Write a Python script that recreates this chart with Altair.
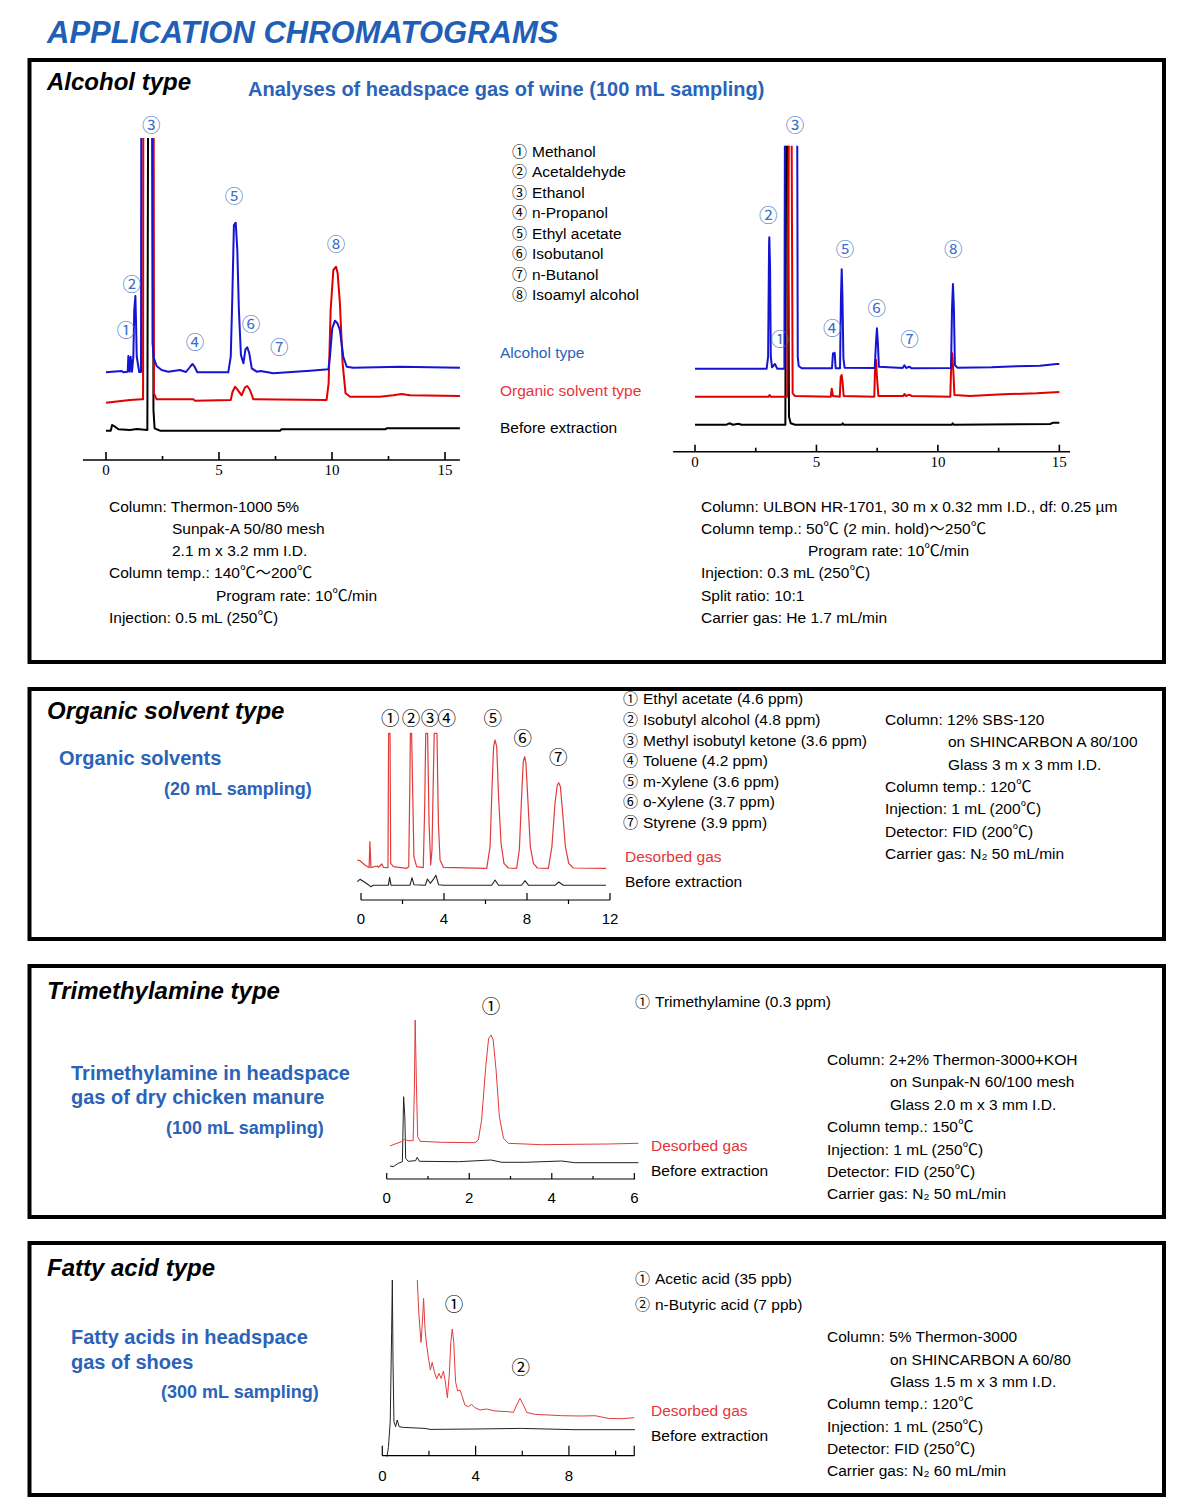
import altair as alt
import pandas as pd

OX, OY = 8, 8
W, H = 1176, 1491

# ------------------------------------------------------------------ data
# chromatogram traces: (retention time [min], signal [a.u.]); None = off-scale gap
ALC_L_BLUE = [(0,87.7),(0.69,89),(0.77,87.7),(0.96,88.3),(0.99,104),(1.05,88.3),(1.09,103.3),(1.15,88.3),
    (1.21,103.3),(1.25,150),(1.30,164),(1.33,136.7),(1.36,103.3),(1.42,95),(1.47,88),(1.55,88),(1.56,322),None,
    (2.04,322),(2.06,116.7),(2.12,101.7),(2.24,94),(2.46,90),(2.76,88.3),(3.27,90),(3.54,88),(3.75,94),(3.83,96),
    (3.92,93.3),(4.04,87.7),(5.41,87.7),(5.52,103.3),(5.59,163.3),(5.66,235),(5.74,237.3),(5.81,210),(5.88,150),
    (5.97,105),(6.08,96.7),(6.17,110.7),(6.25,112.7),(6.34,106.7),(6.45,91.7),(6.67,88.3),(6.84,89),(7.40,86.7),
    (9.03,89.3),(9.84,90.7),(9.91,103.3),(10.01,131.7),(10.13,139.3),(10.24,136.7),(10.35,130),(10.50,103.3),
    (10.65,93.3),(10.94,92.3),(13.01,93.3),(15.66,92.3)]
ALC_L_RED = [(0,57.3),(1.06,60),(1.58,60.7),(1.64,60.7),(1.65,322),None,(2.11,322),(2.12,66.7),(2.24,60.7),
    (3.86,60.7),(3.94,59.3),(5.52,60),(5.60,68.3),(5.71,73.3),(5.81,70.7),(6.00,64.7),(6.15,72.7),(6.25,74),
    (6.37,70),(6.52,60.7),(9.76,60),(9.85,76.7),(9.94,150),(10.06,190),(10.18,193.3),(10.25,186.7),(10.35,156.7),
    (10.47,96.7),(10.60,66.7),(10.80,63.3),(12.12,63.3),(12.71,64.7),(13.08,66),(13.45,64.7),(15.66,64)]
ALC_L_BLACK = [(0,29.3),(0.21,29.3),(0.27,35),(0.40,33.3),(0.55,30.7),(1.06,30),(1.36,31),(1.83,30),(1.86,322),
    None,(2.08,322),(2.10,50),(2.15,31.7),(2.39,29.3),(7.70,29.3),(7.77,30.7),(12.35,30.7),(12.42,31.7),(15.66,31.7)]

ALC_R_BLUE = [(0,83),(2.95,83),(3.01,95),(3.05,208.4),(3.06,214.4),(3.09,185),(3.12,95),(3.17,84.4),(3.29,87.7),
    (3.39,83),(3.68,83),(3.70,306),None,(4.21,306),(4.23,95),(4.27,85.7),(4.39,83.4),(5.64,83.4),(5.68,98.4),
    (5.72,96.7),(5.75,99),(5.79,83.4),(5.97,83.4),(6.01,155),(6.04,182.4),(6.07,155),(6.11,93.4),(6.16,84),
    (7.40,83.7),(7.45,108.4),(7.49,123.4),(7.53,108.4),(7.57,85),(8.55,83.7),(8.62,86.4),(8.70,83.7),(8.82,85),
    (8.92,83.4),(10.54,83.7),(10.58,141.7),(10.62,167.7),(10.66,141.7),(10.70,86.7),(10.80,84),(12.21,84.4),
    (13.24,85.4),(14.20,86),(14.89,87.7),(15.0,87.7)]
ALC_R_RED = [(0,55),(3.03,55),(3.07,56.7),(3.12,55),(3.80,55),(3.86,306),None,(3.98,306),(4.02,58.4),(4.12,55.7),
    (5.59,55),(5.63,63),(5.68,55.7),(5.96,55),(6.00,75),(6.04,76.7),(6.08,68.4),(6.12,55.7),(7.38,55),(7.42,88.4),
    (7.45,91.7),(7.49,75),(7.55,55.7),(8.58,55.7),(8.62,57.7),(8.69,55.7),(8.82,57),(8.92,55.7),(10.51,55),
    (10.55,88.4),(10.59,98.4),(10.64,78.4),(10.68,56.7),(11.32,55.7),(12.69,57.4),(14.07,58.4),(15.0,59.7)]
ALC_R_BLACK = [(0,27),(1.30,27),(1.41,28.4),(1.57,27),(1.78,28),(1.92,27),(3.72,27),(3.75,306),None,(3.83,306),
    (3.87,35),(3.94,28.4),(4.12,27),(6.04,27),(6.08,28.4),(6.12,27),(10.57,27),(10.61,28.4),(10.65,27),
    (14.62,27.7),(14.75,29),(15.0,29)]

ORG_RED = [(-0.18,40),(-0.05,39.3),(0.19,35),(0.39,32.3),(0.43,58.3),(0.48,32.3),(0.76,34),(0.84,32.7),(1.0,36),
    (1.08,32.7),(1.30,32.3),(1.33,166.7),(1.40,166.7),(1.43,36.7),(1.56,33.3),(2.20,31.7),(2.30,33.3),(2.35,110),
    (2.38,166.7),(2.44,166.7),(2.49,110),(2.55,43.3),(2.68,33.3),(3.0,32.3),(3.07,93.3),(3.12,166.7),(3.21,166.7),
    (3.28,76.7),(3.36,35),(3.42,50),(3.49,126.7),(3.53,166.7),(3.66,166.7),(3.73,76.7),(3.81,40),(3.97,32.7),
    (6.06,31.7),(6.22,53.3),(6.31,110),(6.39,153.3),(6.46,160),(6.54,153.3),(6.63,103.3),(6.75,56.7),(6.89,36.7),
    (7.10,32),(7.50,31.7),(7.63,50),(7.74,103.3),(7.82,138.3),(7.89,143.3),(7.95,136.7),(8.05,96.7),(8.16,53.3),
    (8.31,36.7),(8.50,32),(9.03,31.7),(9.20,53.3),(9.35,96.7),(9.46,115),(9.53,117.3),(9.61,113.3),(9.72,86.7),
    (9.85,53.3),(10.01,36.7),(10.23,32),(11.81,31.7)]
ORG_BLACK = [(-0.18,18.3),(-0.05,20.7),(0.14,18.3),(0.39,14.7),(0.47,13.3),(0.59,14.7),(1.32,14.7),(1.38,22.7),
    (1.45,14.7),(2.36,14.7),(2.46,22.3),(2.55,15.3),(3.10,14.7),(3.20,21),(3.34,16.7),(3.52,21.7),(3.61,24.7),
    (3.74,15.3),(3.97,14.7),(6.30,14.7),(6.46,20),(6.63,14.7),(7.74,14.7),(7.90,19.3),(8.08,14.7),(9.35,14.7),
    (9.53,18),(9.75,14.7),(11.81,14.7)]

TMA_RED = [(0.08,33),(0.20,35),(0.36,37.3),(0.43,39.7),(0.52,38.3),(0.64,38.3),(0.67,89),(0.69,159),(0.72,95.7),
    (0.75,42.3),(0.81,37.7),(1.33,36.7),(2.14,36.3),(2.22,39),(2.30,59),(2.40,112.3),(2.47,140.7),(2.53,144),
    (2.58,139),(2.65,109),(2.73,62.3),(2.83,40.7),(2.95,35.7),(3.75,34.3),(4.56,34.7),(5.37,35),(6.10,35.7)]
TMA_BLACK = [(0.08,13),(0.16,12.3),(0.28,15.7),(0.38,17.3),(0.41,82.3),(0.44,62.3),(0.46,20.7),(0.52,17.7),
    (0.70,18.3),(0.74,21.7),(0.79,17.7),(1.74,17.3),(2.53,19),(2.79,16.7),(3.35,16.7),(4.24,18),(4.56,16.3),(6.10,16.3)]

FAT_RED = [(1.50,175.7),(1.57,140.7),(1.66,113.3),(1.72,134),(1.77,157.3),(1.83,127.3),(1.90,110.7),(1.97,99),
    (2.06,85.7),(2.14,93.3),(2.23,84),(2.33,76.7),(2.43,82.3),(2.52,77.3),(2.62,84.7),(2.69,75.7),(2.79,58),
    (2.87,80.7),(2.94,114),(3.0,126.7),(3.06,114),(3.14,74),(3.23,64.7),(3.33,65.7),(3.43,59),(3.54,50.7),
    (3.69,49),(3.83,51.3),(3.97,48),(4.19,45.7),(4.47,46.7),(4.83,44.7),(5.40,44),(5.62,43.3),(5.76,50.7),
    (5.90,57.3),(6.05,50.7),(6.19,43.3),(6.55,41.3),(7.12,40.7),(7.69,40),(8.55,39.7),(9.12,40),(9.69,37.3),
    (10.26,37),(10.80,38)]
FAT_BLACK = [(0.20,-1),(0.26,8),(0.34,34),(0.40,124),(0.43,175.7),(0.46,90.7),(0.50,34),(0.57,29),(0.64,35.7),
    (0.72,29),(0.90,28.3),(1.83,27.3),(2.04,26.3),(3.97,26.7),(5.97,27.3),(8.26,26),(10.83,26)]

# peak numbers
PEAK_L = [(1, 0.88, 331), (2, 1.14, 285), (3, 2.0, 126), (4, 3.94, 343), (5, 5.66, 197), (6, 6.42, 325),
          (7, 7.67, 348), (8, 10.18, 245)]
PEAK_R = [(1, 3.50, 340), (2, 3.02, 216), (3, 4.12, 126), (4, 5.65, 329), (5, 6.18, 250), (6, 7.48, 309),
          (7, 8.83, 340), (8, 10.63, 250)]
PEAK_O = [(1, 1.41, 719), (2, 2.41, 719), (3, 3.33, 719), (4, 4.13, 719), (5, 6.35, 719), (6, 7.79, 739), (7, 9.51, 758)]
PEAK_T = [(1, 2.53, 1007)]
PEAK_F = [(1, 3.07, 1305), (2, 5.93, 1368)]

ALC_COMPOUNDS = ["Methanol", "Acetaldehyde", "Ethanol", "n-Propanol", "Ethyl acetate", "Isobutanol",
                 "n-Butanol", "Isoamyl alcohol"]
ORG_COMPOUNDS = ["Ethyl acetate (4.6 ppm)", "Isobutyl alcohol (4.8 ppm)", "Methyl isobutyl ketone (3.6 ppm)",
                 "Toluene (4.2 ppm)", "m-Xylene (3.6 ppm)", "o-Xylene (3.7 ppm)", "Styrene (3.9 ppm)"]
TMA_COMPOUNDS = ["Trimethylamine (0.3 ppm)"]
FAT_COMPOUNDS = ["Acetic acid (35 ppb)", "n-Butyric acid (7 ppb)"]

ALC_COND_L = ["Column: Thermon-1000 5%", "Sunpak-A  50/80 mesh", "2.1 m x 3.2 mm I.D.",
              "Column temp.: 140℃～200℃", "Program rate: 10℃/min", "Injection: 0.5 mL (250℃)"]
ALC_COND_R = ["Column: ULBON HR-1701, 30 m x 0.32 mm I.D., df: 0.25 µm", "Column temp.: 50℃ (2 min. hold)～250℃",
              "Program rate: 10℃/min", "Injection: 0.3 mL (250℃)", "Split ratio: 10:1", "Carrier gas: He 1.7 mL/min"]
ORG_COND = ["Column: 12% SBS-120", "on SHINCARBON A 80/100", "Glass 3 m x 3 mm I.D.", "Column temp.: 120℃",
            "Injection: 1 mL (200℃)", "Detector: FID (200℃)", "Carrier gas: N₂ 50 mL/min"]
TMA_COND = ["Column: 2+2% Thermon-3000+KOH", "on Sunpak-N 60/100 mesh", "Glass 2.0 m x 3 mm I.D.",
            "Column temp.: 150℃", "Injection: 1 mL (250℃)", "Detector: FID (250℃)", "Carrier gas: N₂ 50 mL/min"]
FAT_COND = ["Column: 5% Thermon-3000", "on SHINCARBON A 60/80", "Glass 1.5 m x 3 mm I.D.", "Column temp.: 120℃",
            "Injection: 1 mL (250℃)", "Detector: FID (250℃)", "Carrier gas: N₂ 60 mL/min"]

TICKS_ALC = [0, 5, 10, 15]
MINOR_ALC = [2.5, 7.5, 12.5]
TICKS_ORG = [0, 4, 8, 12]
MINOR_ORG = [2, 6, 10]
TICKS_TMA = [0, 2, 4, 6]
MINOR_TMA = [1, 3, 5]
TICKS_FAT = [0, 4, 8]
MINOR_FAT = [2, 6, 10]

# ------------------------------------------------------------------ layout / style
SANS = "Liberation Sans, Arial, Noto Sans CJK JP, DejaVu Sans"
CIRC = "Noto Sans CJK JP, DejaVu Sans"
SERIF = "Liberation Serif, Times New Roman, serif"
TITLE_BLUE = "#1f5fb5"
TXT_BLUE = "#2a63b8"
TXT_RED = "#e5353a"
LBL_BLUE = "#3d6fc4"

PANELS = {
    "L": dict(x0=106, ppm=22.6, base=460),
    "R": dict(x0=695, ppm=24.29, base=451.7),
    "O": dict(x0=361, ppm=20.75, base=900),
    "T": dict(x0=386.7, ppm=41.27, base=1179),
    "F": dict(x0=382.3, ppm=23.33, base=1455.7),
}

def circ(n):
    return chr(0x2460 + n - 1)

def xscale(p):
    return alt.Scale(domain=[0, 1], range=[p["x0"] - OX, p["x0"] + p["ppm"] - OX], nice=False, zero=False)

def yscale(p):
    return alt.Scale(domain=[0, 100], range=[p["base"] - OY, p["base"] - OY - 100], nice=False, zero=False)

def trace_df(points):
    rows, seg = [], 0
    for i, pt in enumerate(points):
        if pt is None:
            seg += 1
            continue
        rows.append({"t": pt[0], "v": pt[1], "seg": seg, "i": i})
    return pd.DataFrame(rows)

layers = []

def trace(pk, points, color, width):
    p = PANELS[pk]
    layers.append(alt.Chart(trace_df(points)).mark_line(color=color, strokeWidth=width, strokeJoin="round").encode(
        x=alt.X("t:Q", scale=xscale(p), axis=None),
        y=alt.Y("v:Q", scale=yscale(p), axis=None),
        detail="seg:N", order="i:Q"))

def time_axis(pk, t0, t1, major, minor, labels, lab_y, up, mup, mdown=0, sw=1.2, font=SANS, fs=15, dx=0):
    p = PANELS[pk]
    b = p["base"] - OY
    layers.append(alt.Chart(pd.DataFrame({"a": [t0], "b": [t1]})).mark_rule(color="black", strokeWidth=sw).encode(
        x=alt.X("a:Q", scale=xscale(p), axis=None), x2="b:Q", y=alt.value(b)))
    layers.append(alt.Chart(pd.DataFrame({"t": major})).mark_rule(color="black", strokeWidth=sw).encode(
        x=alt.X("t:Q", scale=xscale(p), axis=None), y=alt.value(b - up), y2=alt.value(b)))
    layers.append(alt.Chart(pd.DataFrame({"t": minor})).mark_rule(color="black", strokeWidth=sw).encode(
        x=alt.X("t:Q", scale=xscale(p), axis=None), y=alt.value(b - mup), y2=alt.value(b + mdown)))
    layers.append(alt.Chart(pd.DataFrame({"t": labels, "lab": [str(v) for v in labels]})).mark_text(
        font=font, fontSize=fs, align="center", baseline="middle", color="black", dx=dx).encode(
        x=alt.X("t:Q", scale=xscale(p), axis=None), y=alt.value(lab_y - OY), text="lab:N"))

def peak_labels(pk, peaks, color):
    p = PANELS[pk]
    df = pd.DataFrame({"t": [a[1] for a in peaks], "py": [a[2] - OY for a in peaks],
                       "lab": [circ(a[0]) for a in peaks]})
    layers.append(alt.Chart(df).mark_text(font=CIRC, fontSize=18.5, align="center", baseline="middle", color=color).encode(
        x=alt.X("t:Q", scale=xscale(p), axis=None), y=alt.Y("py:Q", scale=None, axis=None), text="lab:N"))

def texts(items, size, color="black", weight="normal", style="normal", font=SANS, align="left"):
    df = pd.DataFrame({"px": [a[0] - OX for a in items], "py": [a[1] - OY for a in items], "txt": [a[2] for a in items]})
    layers.append(alt.Chart(df).mark_text(align=align, baseline="middle", font=font, fontSize=size,
                                          fontWeight=weight, fontStyle=style, color=color).encode(
        x=alt.X("px:Q", scale=None, axis=None), y=alt.Y("py:Q", scale=None, axis=None), text="txt:N"))

# ------------------------------------------------------------------ boxes
BOXES = [(29.5, 60, 1164, 662), (29.5, 689, 1164, 939), (29.5, 966, 1164, 1217), (29.5, 1243, 1164, 1495)]
bdf = pd.DataFrame({"x": [b[0] - OX for b in BOXES], "y": [b[1] - OY for b in BOXES],
                    "x2": [b[2] - OX for b in BOXES], "y2": [b[3] - OY for b in BOXES]})
layers.append(alt.Chart(bdf).mark_rect(fillOpacity=0, stroke="black", strokeWidth=4).encode(
    x=alt.X("x:Q", scale=None, axis=None), x2="x2:Q", y=alt.Y("y:Q", scale=None, axis=None), y2="y2:Q"))

# ------------------------------------------------------------------ chromatograms
trace("L", ALC_L_BLACK, "black", 2)
trace("L", ALC_L_RED, "#e00000", 2)
trace("L", ALC_L_BLUE, "#1414d2", 2)
trace("R", ALC_R_BLACK, "black", 2)
trace("R", ALC_R_RED, "#e00000", 2)
trace("R", ALC_R_BLUE, "#1414d2", 2)
trace("O", ORG_BLACK, "#222222", 1.1)
trace("O", ORG_RED, "#e23b3b", 1.2)
trace("T", TMA_BLACK, "#222222", 1)
trace("T", TMA_RED, "#e23b3b", 1)
trace("F", FAT_BLACK, "#222222", 1)
trace("F", FAT_RED, "#e23b3b", 1)

time_axis("L", -1.02, 15.66, TICKS_ALC, MINOR_ALC, TICKS_ALC, 470, 8, 4, sw=1.6, font=SERIF, fs=15)
time_axis("R", -0.9, 15.44, TICKS_ALC, MINOR_ALC, TICKS_ALC, 462, 7, 4, sw=1.6, font=SERIF, fs=15)
time_axis("O", 0, 12, TICKS_ORG, MINOR_ORG, TICKS_ORG, 919, 7, 0, mdown=4, sw=1.2, fs=15)
time_axis("T", 0, 6.02, TICKS_TMA, MINOR_TMA, TICKS_TMA, 1198, 6, 3, sw=1.2, fs=15)
time_axis("F", 0, 10.8, TICKS_FAT + [10.8], MINOR_FAT, TICKS_FAT, 1476, 10, 5, sw=1.2, fs=15)

peak_labels("L", PEAK_L, LBL_BLUE)
peak_labels("R", PEAK_R, LBL_BLUE)
peak_labels("O", PEAK_O, "black")
peak_labels("T", PEAK_T, "black")
peak_labels("F", PEAK_F, "black")

# ------------------------------------------------------------------ texts
texts([(47, 34, "APPLICATION CHROMATOGRAMS")], 31, TITLE_BLUE, "bold", "italic")
texts([(47, 83, "Alcohol type"), (47, 712, "Organic solvent type"), (47, 992, "Trimethylamine type"),
       (47, 1269, "Fatty acid type")], 24, "black", "bold", "italic")
texts([(248, 90, "Analyses of headspace gas of wine (100 mL sampling)"), (59, 759, "Organic solvents"),
       (71, 1074, "Trimethylamine in headspace"), (71, 1098, "gas of dry chicken manure"),
       (71, 1338, "Fatty acids in headspace"), (71, 1363, "gas of shoes")], 20, TXT_BLUE, "bold")
texts([(164, 790, "(20 mL sampling)"), (166, 1129, "(100 mL sampling)"), (161, 1393, "(300 mL sampling)")],
      18, TXT_BLUE, "bold")

# compound lists: circled number + name
ALC_LIST_Y = [152, 172, 193, 213, 234, 254, 275, 295]
ORG_LIST_Y = [699, 720, 741, 761, 782, 802, 823]
nums, names = [], []
for x0, ys, comps in [(519.5, ALC_LIST_Y, ALC_COMPOUNDS), (630.5, ORG_LIST_Y, ORG_COMPOUNDS),
                      (642.5, [1002], TMA_COMPOUNDS), (642.5, [1279, 1305], FAT_COMPOUNDS)]:
    for i, (y, n) in enumerate(zip(ys, comps)):
        nums.append((x0, y, circ(i + 1)))
        names.append((x0 + 12.5, y, n))
texts(nums, 15, "black", font=CIRC, align="center")

body = list(names)
body += [(500, 428, "Before extraction"), (625, 882, "Before extraction"), (651, 1171, "Before extraction"),
         (651, 1436, "Before extraction")]
COND_Y6 = [507, 529, 551, 573, 596, 618]
body += [(x, y, s) for x, y, s in zip([109, 172, 172, 109, 216, 109], COND_Y6, ALC_COND_L)]
body += [(x, y, s) for x, y, s in zip([701, 701, 808, 701, 701, 701], COND_Y6, ALC_COND_R)]
IND = [0, 1, 1, 0, 0, 0, 0]
body += [(885 + 63 * k, y, s) for k, y, s in zip(IND, [720, 742, 765, 787, 809, 832, 854], ORG_COND)]
body += [(827 + 63 * k, y, s) for k, y, s in zip(IND, [1060, 1082, 1105, 1127, 1150, 1172, 1194], TMA_COND)]
body += [(827 + 63 * k, y, s) for k, y, s in zip(IND, [1337, 1360, 1382, 1404, 1427, 1449, 1471], FAT_COND)]
texts(body, 15.5, "black")
texts([(500, 353, "Alcohol type")], 15.5, TXT_BLUE)
texts([(500, 391, "Organic solvent type"), (625, 857, "Desorbed gas"), (651, 1146, "Desorbed gas"),
       (651, 1411, "Desorbed gas")], 15.5, TXT_RED)

chart = alt.layer(*layers).resolve_scale(x="independent", y="independent").properties(
    width=W, height=H, padding=0, autosize=alt.AutoSizeParams(type="none")
).configure_view(stroke=None)

chart.save("out.html", embed_options={"renderer": "svg", "actions": False})
